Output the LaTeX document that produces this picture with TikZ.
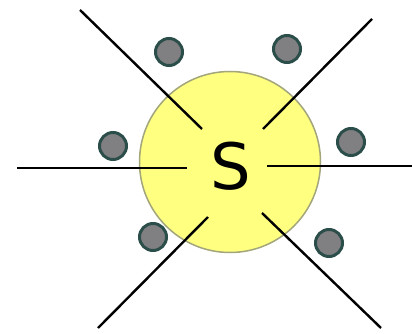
\documentclass[tikz,border=0pt]{standalone}
\usepackage{fontspec}
\newfontfamily\sfont{DejaVu Sans}
\definecolor{sunfill}{HTML}{FFFF80}
\definecolor{sunedge}{HTML}{A3A67A}
\definecolor{dotfill}{HTML}{808082}
\definecolor{dotedge}{HTML}{2C4E4A}
\begin{document}
\begin{tikzpicture}[x=1pt,y=-1pt,
  ray/.style={draw=black,line width=2.4pt},
  dot/.style={circle,fill=dotfill,draw=dotedge,line width=3pt,minimum size=27pt,inner sep=0pt}]
\useasboundingbox (0,0) rectangle (412,334);
\node[circle,fill=sunfill,draw=sunedge,line width=1.5pt,minimum size=181pt,inner sep=0pt] (sun) at (230,162) {};
\node[font=\sfont\fontsize{64}{64}\selectfont] (s) at (231,166) {S};
\coordinate (a1) at (80,10);   \coordinate (a2) at (202,129);
\coordinate (b1) at (372,19);  \coordinate (b2) at (263,129);
\coordinate (c1) at (17,168);  \coordinate (c2) at (187,168);
\coordinate (d1) at (267,166); \coordinate (d2) at (412,166);
\coordinate (e1) at (208,217); \coordinate (e2) at (98,328);
\coordinate (f1) at (262,213); \coordinate (f2) at (381,328);
\draw[ray] (a1) -- (a2);
\draw[ray] (b1) -- (b2);
\draw[ray] (c1) -- (c2);
\draw[ray] (d1) -- (d2);
\draw[ray] (e1) -- (e2);
\draw[ray] (f1) -- (f2);
\node[dot] (p1) at (169,52) {};
\node[dot] (p2) at (287,49) {};
\node[dot] (p3) at (113,146) {};
\node[dot] (p4) at (351,142) {};
\node[dot] (p5) at (153,237) {};
\node[dot] (p6) at (329,243) {};
\end{tikzpicture}
\end{document}
